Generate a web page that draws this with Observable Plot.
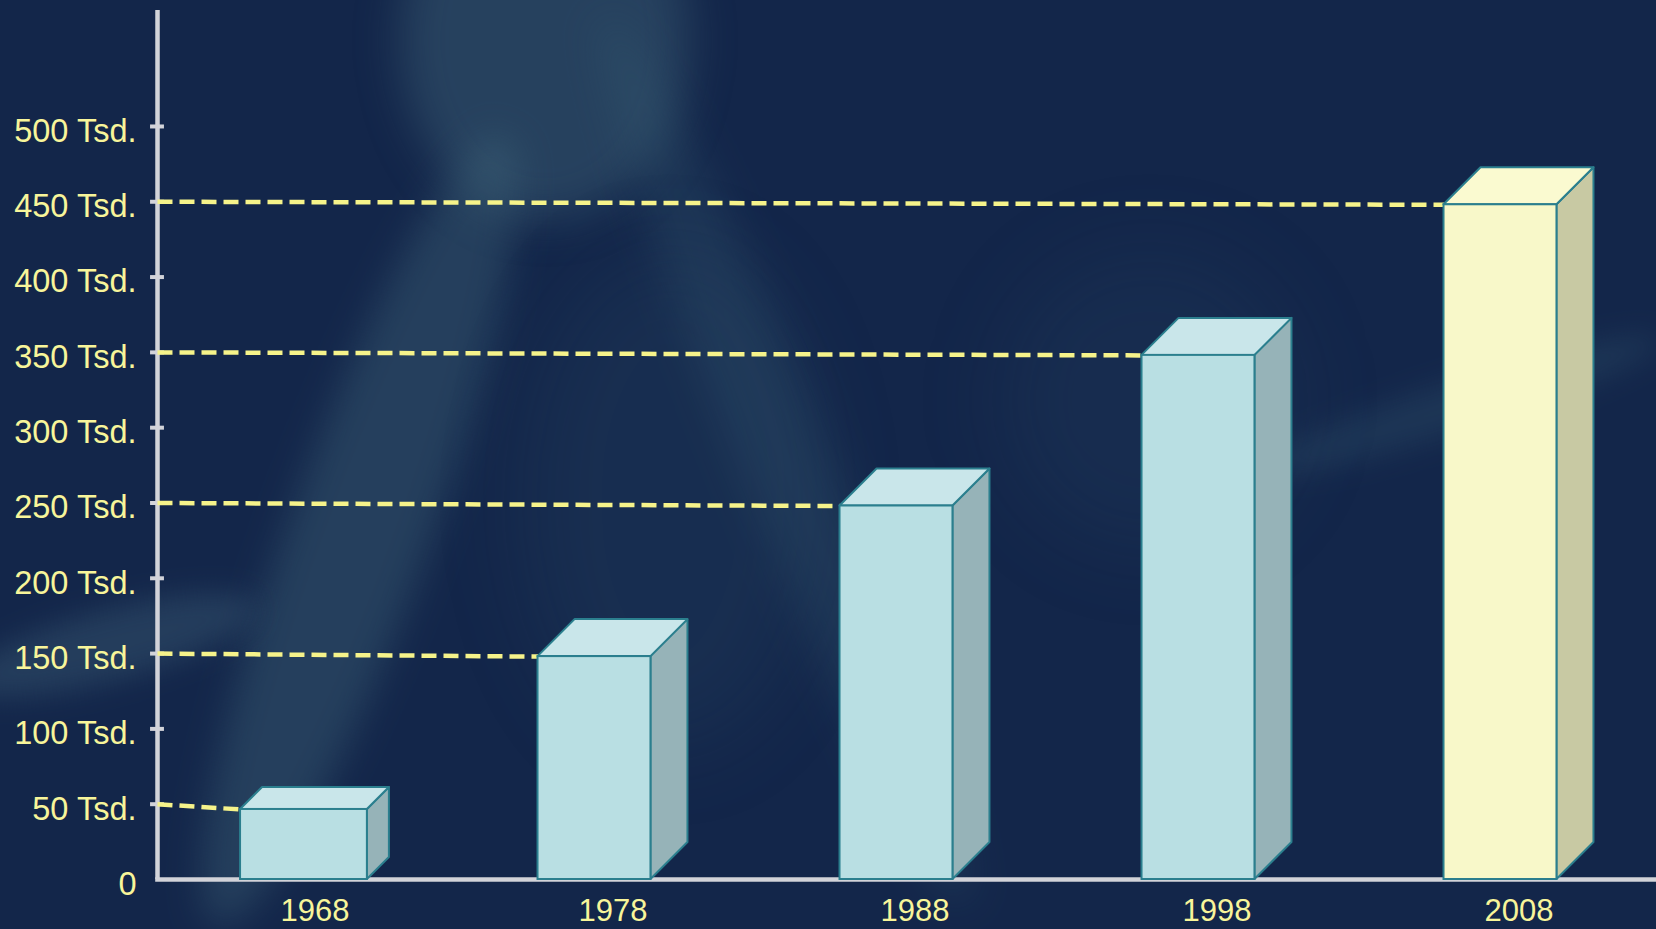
<!DOCTYPE html>
<html>
<head>
<meta charset="utf-8">
<script src="https://cdn.jsdelivr.net/npm/d3@7"></script>
<script src="https://cdn.jsdelivr.net/npm/@observablehq/plot@0.6"></script>
<style>
html, body { margin: 0; padding: 0; width: 1656px; height: 929px; overflow: hidden; background: #13264a; }
#bg { position: absolute; left: 0; top: 0; width: 1656px; height: 929px; overflow: hidden; }
.blob { position: absolute; border-radius: 50%; }
#chart { position: absolute; left: 0; top: 0; }
</style>
</head>
<body>
<div id="bg">
  <div class="blob" style="left:400px;top:-140px;width:290px;height:360px;background:rgba(70,110,130,0.38);filter:blur(22px);"></div>
  <div class="blob" style="left:290px;top:110px;width:140px;height:840px;background:rgba(70,110,130,0.34);transform:rotate(20deg);filter:blur(18px);"></div>
  <div class="blob" style="left:740px;top:-20px;width:90px;height:960px;background:rgba(60,100,120,0.24);transform:rotate(-22deg);filter:blur(20px);"></div>
  <div class="blob" style="left:-40px;top:610px;width:300px;height:70px;background:rgba(70,110,130,0.32);transform:rotate(-15deg);filter:blur(14px);"></div>
  <div class="blob" style="left:520px;top:250px;width:300px;height:500px;background:rgba(50,85,110,0.16);filter:blur(40px);"></div>
  <div class="blob" style="left:1250px;top:380px;width:420px;height:50px;background:rgba(60,100,120,0.24);transform:rotate(-18deg);filter:blur(14px);"></div>
  <div class="blob" style="left:1000px;top:250px;width:300px;height:300px;background:rgba(50,85,110,0.14);filter:blur(40px);"></div>
</div>
<div id="chart"></div>
<script>
// ---- data ----
const years = ["1968", "1978", "1988", "1998", "2008"];
const values = [46.5, 148, 248, 348, 448];          // thousands
const refLevels = [50, 150, 250, 350, 450];          // dashed guide start levels
const yTicks = [0, 50, 100, 150, 200, 250, 300, 350, 400, 450, 500];
const yTickLabels = ["0", "50 Tsd.", "100 Tsd.", "150 Tsd.", "200 Tsd.", "250 Tsd.", "300 Tsd.", "350 Tsd.", "400 Tsd.", "450 Tsd.", "500 Tsd."];
const highlightYear = "2008";

// ---- layout / style ----
const W = 1656, H = 929;
const mLeft = 157, mRight = 0, mTop = 10, mBottom = 50;
const slotPx = 302;
const xMax = (W - mLeft - mRight) / slotPx;
const yMax = 577;
const pxPerK = (H - mTop - mBottom) / yMax;
const boxGeom = { offset: 0.26, width: 0.374, dx: 37 / slotPx, dy: 37 / pxPerK };
const firstGeom = { offset: 0.275, width: 0.42, dx: 22 / slotPx, dy: 22 / pxPerK };
const palette = {
  normal: { front: "#b9dfe3", top: "#c9e6ea", side: "#96b3b8" },
  highlight: { front: "#f8f8c9", top: "#fafad0", side: "#c8c9a3" }
};
const edge = "#2b7f8e";
const txt = "#f8f59a";
const guide = "#f6f38a";
const axisCol = "#d2d3d9";
const font = "Liberation Sans, Arial, sans-serif";

const boxes = years.map((year, i) => {
  const g = i === 0 ? firstGeom : boxGeom;
  const c = year === highlightYear ? palette.highlight : palette.normal;
  const x1 = i + g.offset;
  return { year, value: values[i], ref: refLevels[i], x1, x2: x1 + g.width, dx: g.dx, dy: g.dy, c };
});

const sidePts = boxes.flatMap(b => [
  { year: b.year, x: b.x2, y1: 0, y2: b.value, fill: b.c.side },
  { year: b.year, x: b.x2 + b.dx, y1: b.dy, y2: b.value + b.dy, fill: b.c.side }
]);
const topPts = boxes.flatMap(b => [
  { year: b.year, y: b.value, x1: b.x1, x2: b.x2, fill: b.c.top },
  { year: b.year, y: b.value + b.dy, x1: b.x1 + b.dx, x2: b.x2 + b.dx, fill: b.c.top }
]);

const chart = Plot.plot({
  width: W, height: H,
  marginLeft: mLeft, marginRight: mRight, marginTop: mTop, marginBottom: mBottom,
  style: { background: "transparent", fontFamily: font, overflow: "visible" },
  x: { domain: [0, xMax], axis: null },
  y: { domain: [0, yMax], axis: null },
  marks: [
    // axes lines
    Plot.ruleX([0], { y1: 0, y2: yMax, stroke: axisCol, strokeWidth: 4.5 }),
    Plot.ruleY([0], { x1: -0.006, x2: xMax, stroke: axisCol, strokeWidth: 4.5 }),
    Plot.ruleY(yTicks.filter(v => v > 0), { x1: -0.023, x2: 0.023, stroke: axisCol, strokeWidth: 4 }),
    Plot.text(yTicks, {
      x: () => 0, y: d => d, text: (d, i) => yTickLabels[i],
      textAnchor: "end", dx: -21, dy: 5, fill: txt, fontSize: 32.5, fontFamily: font
    }),
    // dashed guides
    Plot.link(boxes, {
      x1: () => 0, y1: "ref", x2: "x1", y2: "value",
      stroke: guide, strokeWidth: 4.5, strokeDasharray: "15,7"
    }),
    // 3D boxes
    Plot.areaY(sidePts, { x: "x", y1: "y1", y2: "y2", z: "year", fill: "fill", stroke: edge, strokeWidth: 2, curve: "linear" }),
    Plot.areaX(topPts, { y: "y", x1: "x1", x2: "x2", z: "year", fill: "fill", stroke: edge, strokeWidth: 2, curve: "linear" }),
    Plot.rect(boxes, { x1: "x1", x2: "x2", y1: () => 0, y2: "value", fill: b => b.c.front, stroke: edge, strokeWidth: 2 }),
    // year labels
    Plot.text(boxes, {
      x: b => (b.x1 + b.x2 + b.dx) / 2, y: () => 0, text: "year",
      dy: 32, fill: txt, fontSize: 31, fontFamily: font
    })
  ]
});
document.getElementById("chart").appendChild(chart);
</script>
</body>
</html>
